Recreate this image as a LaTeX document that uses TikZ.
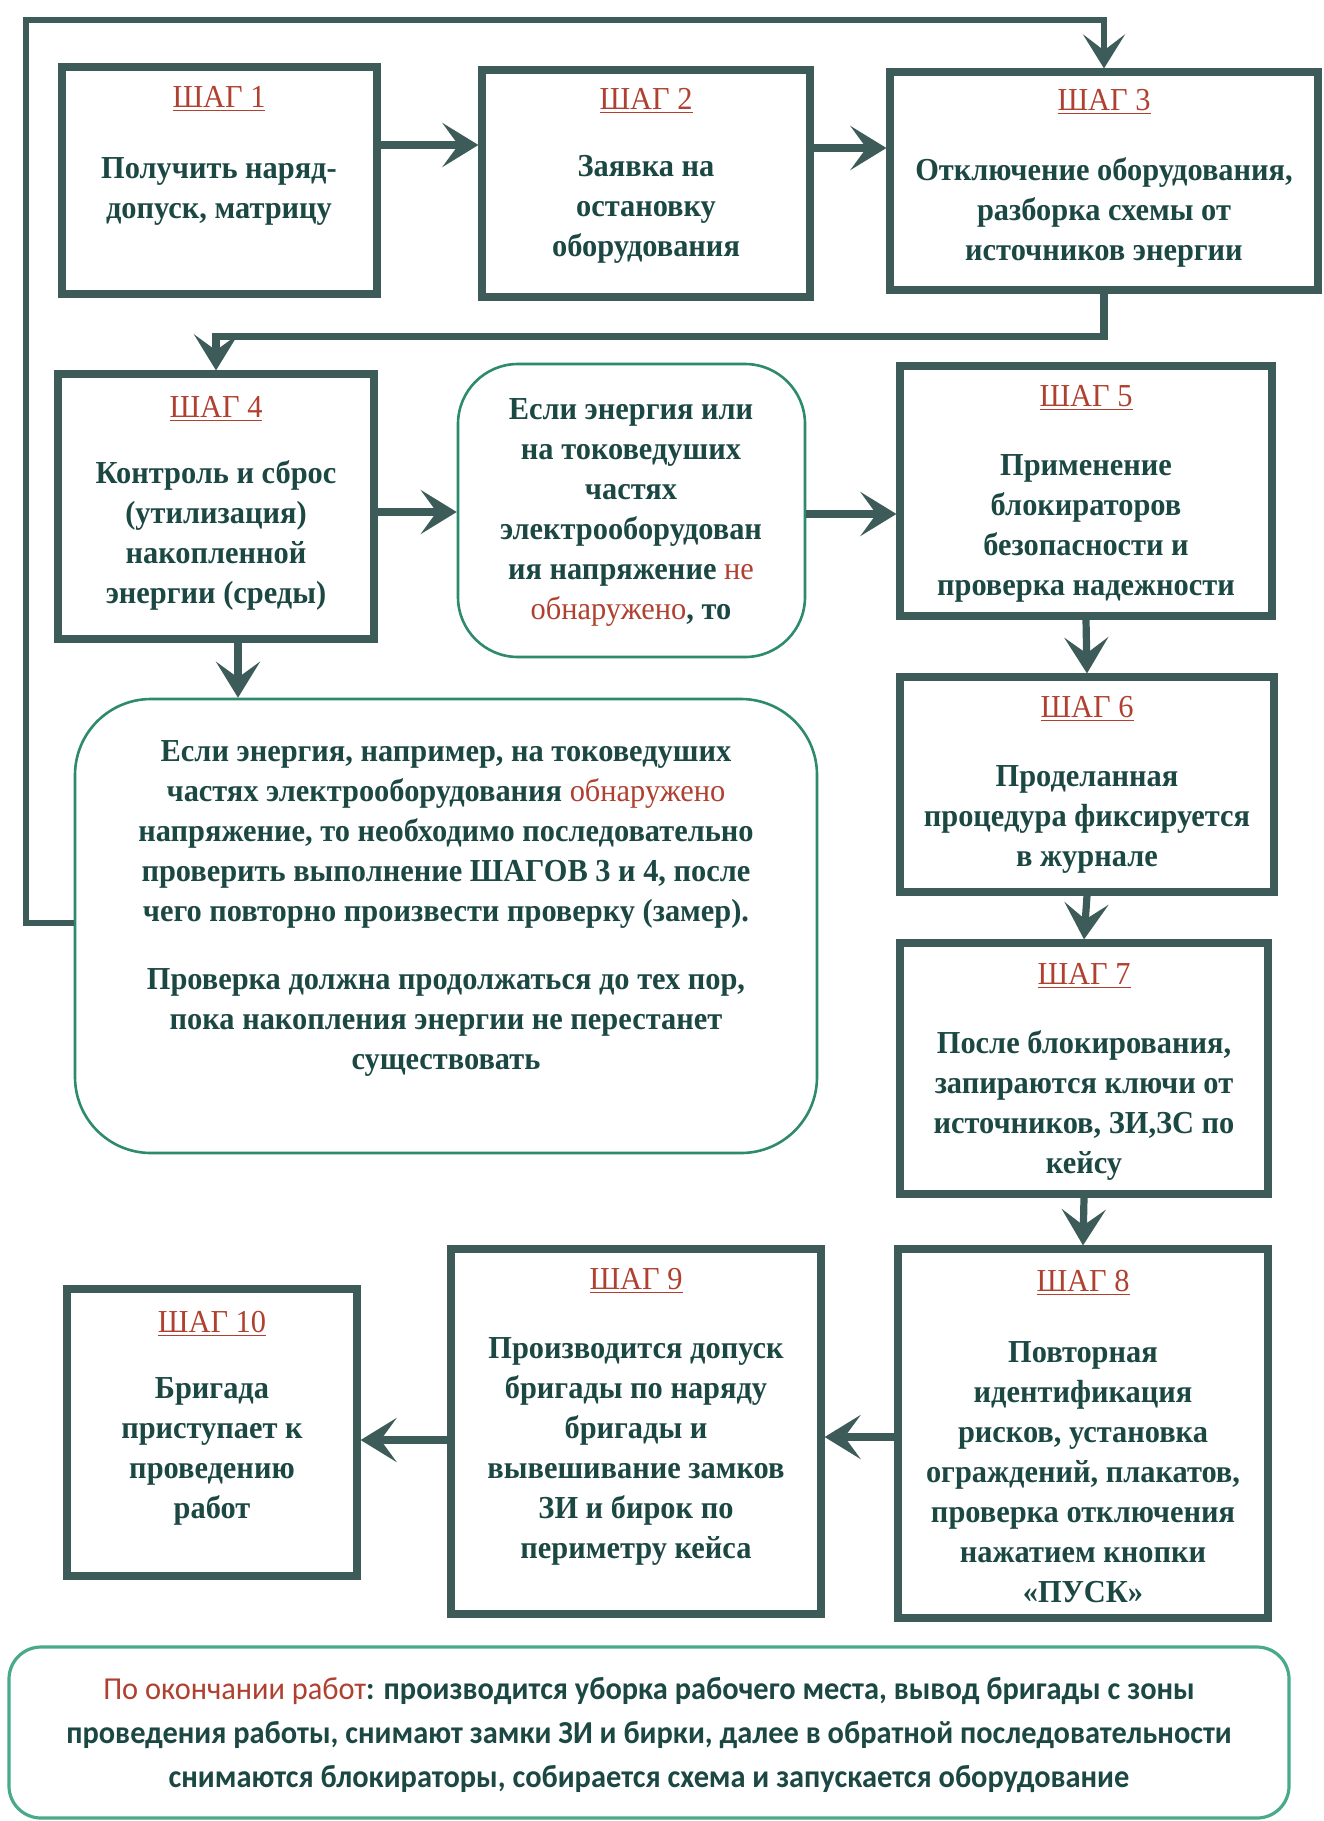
\documentclass[tikz,border=0pt]{standalone}
\usepackage{fontspec}
\setmainfont{Liberation Serif}[FakeStretch=0.95]
\newfontfamily\notefont{Carlito}[FakeStretch=0.95]
\usetikzlibrary{arrows.meta,fit,calc}

\definecolor{frame}{HTML}{3D5B59}
\definecolor{ink}{HTML}{1C4844}
\definecolor{stepred}{HTML}{B0402F}
\definecolor{roundline}{HTML}{2E8A6E}
\definecolor{noteline}{HTML}{49A98B}

\tikzset{
  stepbox/.style={draw=frame, line width=3.6pt, inner sep=0pt},
  roundbox/.style={draw=roundline, line width=1.3pt, inner sep=0pt},
  steptitle/.style={text=stepred, font=\fontsize{16}{20}\selectfont, inner sep=0pt},
  body/.style={text=ink, font=\bfseries\fontsize{16}{20}\selectfont, align=center, inner sep=0pt},
  arr/.style={draw=frame, line width=3.6pt, -{Stealth[length=18pt,width=22pt,inset=8pt]}},
  looparr/.style={draw=frame, line width=3pt, -{Stealth[length=17pt,width=21pt,inset=8pt]}},
}
\newcommand{\redword}[1]{\textcolor{stepred}{\mdseries #1}}

\begin{document}
\begin{tikzpicture}[x=0.5pt, y=-0.5pt]
  \fill[white] (0,0) rectangle (1323,1821);
  \useasboundingbox (0,0) rectangle (1323,1821);

  % step frames
  \node[stepbox, fit={(62,67)(377,294)}]   (s1) {};
  \node[stepbox, fit={(482,70)(810,297)}]  (s2) {};
  \node[stepbox, fit={(890,72)(1318,290)}] (s3) {};
  \node[stepbox, fit={(58,374)(374,639)}]  (s4) {};
  \node[stepbox, fit={(900,366)(1272,616)}] (s5) {};
  \node[stepbox, fit={(900,677)(1274,892)}] (s6) {};
  \node[stepbox, fit={(900,943)(1268,1194)}] (s7) {};
  \node[stepbox, fit={(898,1249)(1268,1618)}] (s8) {};
  \node[stepbox, fit={(451,1249)(821,1614)}] (s9) {};
  \node[stepbox, fit={(67,1289)(357,1576)}] (s10) {};

  % condition boxes
  \node[roundbox, rounded corners=30pt, fit={(458,364)(805,657)}] (A) {};
  \node[roundbox, rounded corners=38pt, fit={(75,699)(817,1153)}] (B) {};
  \node[draw=noteline, line width=1.6pt, inner sep=0pt, rounded corners=16pt,
        fit={(9,1647)(1289,1818)}] (note) {};

  % titles
  \node[steptitle] (t1)  at (219,99)   {\underline{ШАГ 1}};
  \node[steptitle] (t2)  at (646,101)  {\underline{ШАГ 2}};
  \node[steptitle] (t3)  at (1104,102) {\underline{ШАГ 3}};
  \node[steptitle] (t4)  at (216,409)  {\underline{ШАГ 4}};
  \node[steptitle] (t5)  at (1086,398) {\underline{ШАГ 5}};
  \node[steptitle] (t6)  at (1087,709) {\underline{ШАГ 6}};
  \node[steptitle] (t7)  at (1084,976) {\underline{ШАГ 7}};
  \node[steptitle] (t8)  at (1083,1283) {\underline{ШАГ 8}};
  \node[steptitle] (t9)  at (636,1281) {\underline{ШАГ 9}};
  \node[steptitle] (t10) at (212,1324) {\underline{ШАГ 10}};

  % texts
  \node[body] (b1) at (219,191) {Получить наряд-\\допуск, матрицу};
  \node[body] (b2) at (646,209) {Заявка на\\остановку\\оборудования};
  \node[body] (b3) at (1104,212) {Отключение оборудования,\\разборка схемы от\\источников энергии};
  \node[body] (b4) at (216,535) {Контроль и сброс\\(утилизация)\\накопленной\\энергии (среды)};
  \node[body] (bA) at (631,512) {Если энергия или\\на токоведуших\\частях\\электрооборудован\\ия напряжение \redword{не}\\\redword{обнаружено}, то};
  \node[body] (b5) at (1086,528) {Применение\\блокираторов\\безопасности и\\проверка надежности};
  \node[body] (bB) at (446,908) {Если энергия, например, на токоведуших\\частях электрооборудования \redword{обнаружено}\\напряжение, то необходимо последовательно\\проверить выполнение ШАГОВ 3 и 4, после\\чего повторно произвести проверку (замер).\\[14pt]Проверка должна продолжаться до тех пор,\\пока накопления энергии не перестанет\\существовать};
  \node[body] (b6) at (1087,819) {Проделанная\\процедура фиксируется\\в журнале};
  \node[body] (b7) at (1084,1105) {После блокирования,\\запираются ключи от\\источников, ЗИ,ЗС по\\кейсу};
  \node[body] (b8) at (1083,1472) {Повторная\\идентификация\\рисков, установка\\ограждений, плакатов,\\проверка отключения\\нажатием кнопки\\«ПУСК»};
  \node[body] (b9) at (636,1451) {Производится допуск\\бригады по наряду\\бригады и\\вывешивание замков\\ЗИ и бирок по\\периметру кейса};
  \node[body] (b10) at (212,1451) {Бригада\\приступает к\\проведению\\работ};
  \node[text=ink, font=\notefont\bfseries\fontsize{16}{22}\selectfont, align=center, inner sep=0pt]
    (bn) at (649,1735) {\redword{По окончании работ}: производится уборка рабочего места, вывод бригады с зоны\\проведения работы, снимают замки ЗИ и бирки, далее в обратной последовательности\\снимаются блокираторы, собирается схема и запускается оборудование};

  % connector heights
  \coordinate (r12) at (0,145);
  \coordinate (r23) at (0,148);
  \coordinate (r4A) at (0,512);
  \coordinate (rA5) at (0,514);
  \coordinate (r89) at (0,1437);
  \coordinate (r910) at (0,1440);
  \coordinate (c4B) at (238,0);
  \coordinate (rloop) at (0,923);
  \coordinate (loopcorner) at (26,20);

  % connectors
  \draw[arr] (s1.east |- r12) -- (s2.west |- r12);
  \draw[arr] (s2.east |- r23) -- (s3.west |- r23);
  \draw[arr] (s3.south) -- ++(0,43) -| (s4.north);
  \draw[arr] (s4.east |- r4A) -- (A.west |- r4A);
  \draw[arr] (A.east |- rA5) -- (s5.west |- rA5);
  \draw[arr] (s4.south -| c4B) -- (B.north -| c4B);
  \draw[arr] (s5.south) -- (s6.north);
  \draw[arr] (s6.south) -- (s7.north);
  \draw[arr] (s7.south) -- (s8.north);
  \draw[arr] (s8.west |- r89) -- (s9.east |- r89);
  \draw[arr] (s9.west |- r910) -- (s10.east |- r910);
  \draw[looparr] (B.west |- rloop) -| (loopcorner) -| (s3.north);
\end{tikzpicture}
\end{document}
